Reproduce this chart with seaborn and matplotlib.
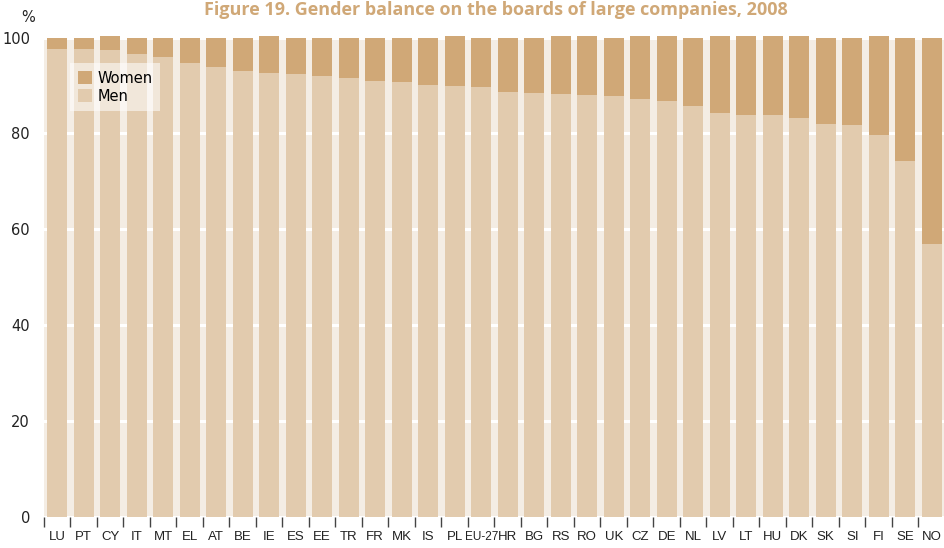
import matplotlib
matplotlib.use("Agg")
import matplotlib.pyplot as plt
from matplotlib.patches import Patch
import numpy as np
import pandas as pd
import seaborn as sns

# data (% of board members)
countries = ["LU", "PT", "CY", "IT", "MT", "EL", "AT", "BE", "IE", "ES", "EE", "TR",
             "FR", "MK", "IS", "PL", "EU-27", "HR", "BG", "RS", "RO", "UK", "CZ", "DE",
             "NL", "LV", "LT", "HU", "DK", "SK", "SI", "FI", "SE", "NO"]
men = [97.7, 97.7, 97.3, 96.5, 96.0, 94.6, 93.9, 93.1, 92.7, 92.3, 91.9, 91.6,
       91.0, 90.8, 90.0, 89.8, 89.6, 88.7, 88.5, 88.3, 88.1, 87.9, 87.1, 86.8,
       85.8, 84.3, 83.9, 83.9, 83.3, 82.0, 81.8, 79.7, 74.3, 57.0]
women = [2.3, 2.3, 3.0, 3.5, 4.0, 5.4, 6.1, 6.9, 7.6, 7.7, 8.1, 8.4,
         9.0, 9.2, 10.0, 10.5, 10.4, 11.3, 11.5, 12.0, 12.2, 12.1, 13.2, 13.5,
         14.2, 16.0, 16.4, 16.4, 17.0, 18.0, 18.2, 20.6, 25.7, 43.0]

c_women = "#d0a877"
c_men = "#e2cbae"
c_bg = "#f4ede4"

df = pd.DataFrame({"country": countries, "men": men, "women": women})
df["total"] = df["men"] + df["women"]

fig = plt.figure(figsize=(9.45, 5.48), dpi=100)
ax = fig.add_axes([44 / 945, 31 / 548, 1 - 44 / 945, 479.5 / 548])
ax.set_facecolor(c_bg)

sns.barplot(data=df, x="country", y="total", color=c_women, width=0.75,
            saturation=1, ax=ax, zorder=3)
sns.barplot(data=df, x="country", y="men", color=c_men, width=0.75,
            saturation=1, ax=ax, zorder=3)
for p in ax.patches:
    p.set_clip_on(False)
    p.set_linewidth(0)

ax.set_xlim(-0.5, len(countries) - 0.5)
ax.set_ylim(0, 100)
ax.set_yticks([0, 20, 40, 60, 80, 100])
ax.yaxis.grid(True, color="white", linewidth=2.2, zorder=1)
ax.set_axisbelow(True)
for s in ax.spines.values():
    s.set_visible(False)

ax.set_xlabel("")
ax.set_ylabel("")
ax.tick_params(axis="y", length=0, pad=10, labelsize=10.5, labelcolor="#222222")
ax.tick_params(axis="x", which="major", length=0, pad=10, labelsize=9.5,
               labelcolor="#222222")
ax.set_xticks(np.arange(len(countries) + 1) - 0.5, minor=True)
ax.tick_params(axis="x", which="minor", length=7, width=1, color="#444444")
for lab in ax.get_xticklabels():
    lab.set_fontfamily(["Liberation Sans", "DejaVu Sans"])
    if lab.get_text() == "EU-27":
        lab.set_fontsize(8.5)

fig.text(28 / 945, 1 - 18 / 548, "%", ha="center", va="center", fontsize=10.5,
         color="#222222")
fig.text(496 / 945, 1 - 1 / 548,
         "Figure 19. Gender balance on the boards of large companies, 2008",
         ha="center", va="top", fontsize=13, fontweight="bold",
         color=c_women, family="Open Sans")

handles = [Patch(facecolor=c_women, label="Women"), Patch(facecolor=c_men, label="Men")]
leg = ax.legend(handles=handles, loc="upper left", bbox_to_anchor=(63 / 945, 1 - 56 / 548),
                bbox_transform=fig.transFigure, frameon=True, fancybox=False,
                fontsize=10.5, handlelength=1.0, handleheight=1.0, handletextpad=0.4,
                labelspacing=0.2, borderpad=0.5)
leg.get_frame().set_facecolor("white")
leg.get_frame().set_alpha(0.55)
leg.get_frame().set_linewidth(0)

fig.savefig("out.png", dpi=100)
